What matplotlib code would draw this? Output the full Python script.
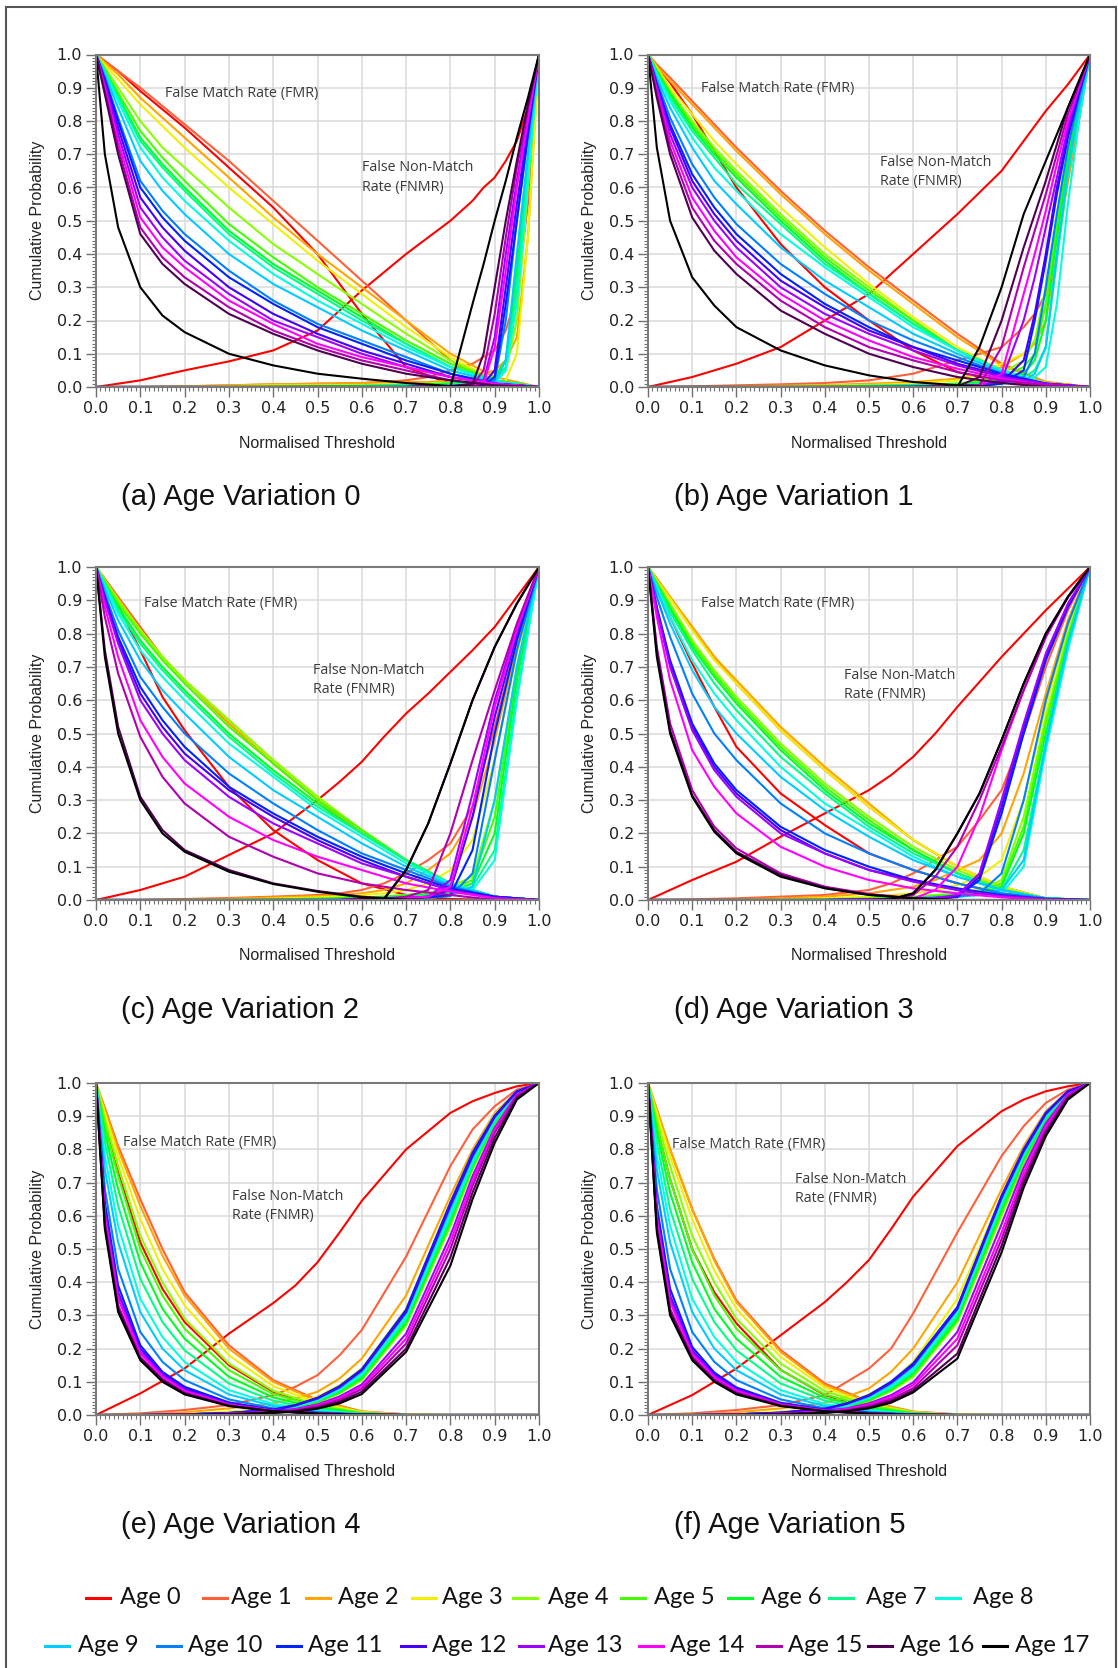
import numpy as np
import matplotlib
matplotlib.use('Agg')
import matplotlib.pyplot as plt
from matplotlib.lines import Line2D
from matplotlib.patches import Rectangle

W, H = 1118, 1668

ages = ['Age 0', 'Age 1', 'Age 2', 'Age 3', 'Age 4', 'Age 5', 'Age 6', 'Age 7', 'Age 8',
        'Age 9', 'Age 10', 'Age 11', 'Age 12', 'Age 13', 'Age 14', 'Age 15', 'Age 16', 'Age 17']
age_colors = ['#ff0000', '#ff5f3a', '#ffa500', '#f0f000', '#88ff00', '#44ff00', '#00ff22',
              '#00ff88', '#00ffe0', '#00ccff', '#0080ff', '#0022ff', '#4400ff', '#a000ff',
              '#ff00ff', '#b000b0', '#500050', '#000000']

captions = ['(a) Age Variation 0', '(b) Age Variation 1', '(c) Age Variation 2',
            '(d) Age Variation 3', '(e) Age Variation 4', '(f) Age Variation 5']

# thresholds where the curves were read
fmr_x = [0, 0.02, 0.05, 0.1, 0.15, 0.2, 0.3, 0.4, 0.5, 0.6, 0.7, 0.8, 0.9, 1.0]
fnmr_x_ab = [0, 0.1, 0.2, 0.3, 0.4, 0.5, 0.6, 0.7, 0.75, 0.8, 0.85, 0.875, 0.9, 0.925, 0.95, 0.975, 1.0]
fnmr_x_cd = [0, 0.1, 0.2, 0.3, 0.4, 0.5, 0.55, 0.6, 0.65, 0.7, 0.75, 0.8, 0.85, 0.9, 0.95, 1.0]
fnmr_x_ef = [0, 0.1, 0.2, 0.3, 0.4, 0.45, 0.5, 0.55, 0.6, 0.7, 0.8, 0.85, 0.9, 0.95, 1.0]

# (a) age variation 0
fmr_a = [
    [1.0, 0.98, 0.95, 0.89, 0.835, 0.78, 0.66, 0.54, 0.40, 0.22, 0.06, 0.01, 0.0, 0.0],
    [1.0, 0.98, 0.95, 0.90, 0.845, 0.79, 0.68, 0.56, 0.44, 0.32, 0.20, 0.08, 0.01, 0.0],
    [1.0, 0.975, 0.94, 0.87, 0.81, 0.75, 0.63, 0.51, 0.40, 0.30, 0.20, 0.10, 0.03, 0.0],
    [1.0, 0.97, 0.925, 0.85, 0.785, 0.72, 0.60, 0.49, 0.38, 0.28, 0.18, 0.09, 0.02, 0.0],
    [1.0, 0.96, 0.90, 0.80, 0.72, 0.66, 0.54, 0.43, 0.34, 0.25, 0.16, 0.08, 0.02, 0.0],
    [1.0, 0.955, 0.885, 0.77, 0.69, 0.62, 0.49, 0.39, 0.30, 0.22, 0.14, 0.07, 0.02, 0.0],
    [1.0, 0.95, 0.875, 0.75, 0.67, 0.60, 0.47, 0.37, 0.29, 0.21, 0.13, 0.06, 0.02, 0.0],
    [1.0, 0.95, 0.87, 0.74, 0.66, 0.59, 0.46, 0.36, 0.28, 0.20, 0.13, 0.06, 0.02, 0.0],
    [1.0, 0.945, 0.86, 0.72, 0.63, 0.56, 0.44, 0.34, 0.26, 0.19, 0.12, 0.06, 0.015, 0.0],
    [1.0, 0.94, 0.84, 0.68, 0.59, 0.52, 0.40, 0.31, 0.24, 0.17, 0.11, 0.05, 0.015, 0.0],
    [1.0, 0.93, 0.81, 0.62, 0.53, 0.46, 0.35, 0.26, 0.19, 0.14, 0.09, 0.04, 0.01, 0.0],
    [1.0, 0.925, 0.80, 0.60, 0.51, 0.44, 0.33, 0.25, 0.18, 0.13, 0.08, 0.04, 0.01, 0.0],
    [1.0, 0.92, 0.78, 0.57, 0.48, 0.41, 0.30, 0.22, 0.16, 0.11, 0.07, 0.03, 0.01, 0.0],
    [1.0, 0.91, 0.76, 0.54, 0.45, 0.38, 0.28, 0.20, 0.15, 0.10, 0.06, 0.03, 0.01, 0.0],
    [1.0, 0.90, 0.74, 0.51, 0.42, 0.36, 0.26, 0.19, 0.13, 0.09, 0.06, 0.03, 0.01, 0.0],
    [1.0, 0.89, 0.72, 0.48, 0.39, 0.33, 0.24, 0.17, 0.12, 0.08, 0.05, 0.02, 0.005, 0.0],
    [1.0, 0.88, 0.70, 0.46, 0.37, 0.31, 0.22, 0.16, 0.11, 0.07, 0.04, 0.02, 0.005, 0.0],
    [1.0, 0.70, 0.48, 0.30, 0.215, 0.165, 0.10, 0.065, 0.04, 0.025, 0.012, 0.003, 0.0, 0.0],
]
fnmr_a = [
    [0, 0.02, 0.05, 0.077, 0.11, 0.17, 0.29, 0.40, 0.45, 0.50, 0.56, 0.60, 0.63, 0.68, 0.74, 0.84, 1.0],
    [0, 0, 0.002, 0.005, 0.008, 0.01, 0.012, 0.02, 0.03, 0.05, 0.07, 0.09, 0.11, 0.17, 0.28, 0.55, 1.0],
    [0, 0, 0.002, 0.005, 0.008, 0.01, 0.012, 0.015, 0.015, 0.02, 0.03, 0.04, 0.05, 0.08, 0.15, 0.45, 1.0],
    [0, 0, 0, 0.003, 0.005, 0.005, 0.006, 0.008, 0.01, 0.01, 0.01, 0.012, 0.015, 0.02, 0.10, 0.45, 1.0],
    [0, 0, 0, 0, 0.002, 0.003, 0.005, 0.008, 0.01, 0.012, 0.02, 0.025, 0.03, 0.05, 0.2, 0.6, 1.0],
    [0, 0, 0, 0, 0, 0.002, 0.003, 0.005, 0.008, 0.01, 0.02, 0.025, 0.03, 0.08, 0.3, 0.65, 1.0],
    [0, 0, 0, 0, 0, 0.002, 0.003, 0.005, 0.008, 0.01, 0.015, 0.02, 0.03, 0.08, 0.35, 0.68, 1.0],
    [0, 0, 0, 0, 0, 0, 0.002, 0.004, 0.006, 0.008, 0.012, 0.015, 0.02, 0.06, 0.3, 0.65, 1.0],
    [0, 0, 0, 0, 0, 0, 0, 0.002, 0.004, 0.006, 0.008, 0.01, 0.01, 0.05, 0.25, 0.62, 1.0],
    [0, 0, 0, 0, 0, 0, 0, 0.002, 0.003, 0.005, 0.007, 0.008, 0.01, 0.08, 0.4, 0.7, 1.0],
    [0, 0, 0, 0, 0, 0, 0, 0, 0.002, 0.003, 0.004, 0.005, 0.02, 0.2, 0.5, 0.75, 1.0],
    [0, 0, 0, 0, 0, 0, 0, 0, 0.002, 0.003, 0.004, 0.006, 0.03, 0.25, 0.5, 0.76, 1.0],
    [0, 0, 0, 0, 0, 0, 0, 0, 0.002, 0.003, 0.005, 0.01, 0.05, 0.3, 0.55, 0.78, 1.0],
    [0, 0, 0, 0, 0, 0, 0, 0, 0.001, 0.002, 0.005, 0.02, 0.15, 0.4, 0.62, 0.82, 1.0],
    [0, 0, 0, 0, 0, 0, 0, 0, 0.001, 0.002, 0.004, 0.01, 0.12, 0.35, 0.6, 0.8, 1.0],
    [0, 0, 0, 0, 0, 0, 0, 0, 0.001, 0.002, 0.005, 0.05, 0.22, 0.45, 0.66, 0.84, 1.0],
    [0, 0, 0, 0, 0, 0, 0, 0, 0.001, 0.002, 0.01, 0.1, 0.3, 0.5, 0.68, 0.85, 1.0],
    [0, 0, 0, 0, 0, 0, 0, 0, 0, 0.0, 0.25, 0.37, 0.5, 0.62, 0.75, 0.87, 1.0],
]

# (b) age variation 1
fmr_b = [
    [1.0, 0.965, 0.915, 0.82, 0.71, 0.60, 0.43, 0.30, 0.20, 0.11, 0.045, 0.015, 0.0, 0.0],
    [1.0, 0.97, 0.93, 0.86, 0.79, 0.72, 0.59, 0.47, 0.36, 0.26, 0.16, 0.07, 0.015, 0.0],
    [1.0, 0.965, 0.92, 0.85, 0.78, 0.71, 0.58, 0.46, 0.35, 0.25, 0.15, 0.065, 0.015, 0.0],
    [1.0, 0.96, 0.90, 0.82, 0.74, 0.67, 0.54, 0.42, 0.31, 0.21, 0.12, 0.05, 0.01, 0.0],
    [1.0, 0.955, 0.89, 0.80, 0.72, 0.65, 0.52, 0.40, 0.30, 0.20, 0.11, 0.05, 0.01, 0.0],
    [1.0, 0.95, 0.885, 0.79, 0.71, 0.64, 0.51, 0.39, 0.29, 0.20, 0.11, 0.05, 0.01, 0.0],
    [1.0, 0.95, 0.88, 0.78, 0.70, 0.63, 0.50, 0.38, 0.28, 0.19, 0.11, 0.05, 0.01, 0.0],
    [1.0, 0.945, 0.87, 0.77, 0.69, 0.61, 0.49, 0.37, 0.28, 0.19, 0.11, 0.05, 0.01, 0.0],
    [1.0, 0.94, 0.86, 0.75, 0.66, 0.59, 0.46, 0.36, 0.27, 0.18, 0.11, 0.05, 0.01, 0.0],
    [1.0, 0.93, 0.84, 0.72, 0.62, 0.55, 0.42, 0.32, 0.24, 0.16, 0.10, 0.045, 0.01, 0.0],
    [1.0, 0.92, 0.81, 0.67, 0.57, 0.49, 0.37, 0.28, 0.20, 0.14, 0.09, 0.04, 0.01, 0.0],
    [1.0, 0.91, 0.79, 0.64, 0.54, 0.46, 0.34, 0.25, 0.18, 0.12, 0.08, 0.04, 0.01, 0.0],
    [1.0, 0.905, 0.78, 0.62, 0.52, 0.44, 0.32, 0.24, 0.17, 0.12, 0.07, 0.035, 0.01, 0.0],
    [1.0, 0.90, 0.76, 0.60, 0.50, 0.42, 0.30, 0.22, 0.16, 0.11, 0.065, 0.03, 0.01, 0.0],
    [1.0, 0.89, 0.74, 0.57, 0.47, 0.39, 0.28, 0.20, 0.14, 0.09, 0.055, 0.025, 0.005, 0.0],
    [1.0, 0.88, 0.72, 0.54, 0.44, 0.37, 0.26, 0.18, 0.12, 0.08, 0.045, 0.02, 0.005, 0.0],
    [1.0, 0.87, 0.70, 0.51, 0.41, 0.34, 0.23, 0.16, 0.10, 0.06, 0.03, 0.012, 0.0, 0.0],
    [1.0, 0.72, 0.50, 0.33, 0.245, 0.18, 0.11, 0.065, 0.035, 0.015, 0.005, 0.0, 0.0, 0.0],
]
fnmr_b = [
    [0, 0.03, 0.07, 0.12, 0.20, 0.28, 0.40, 0.52, 0.585, 0.65, 0.74, 0.785, 0.83, 0.87, 0.91, 0.955, 1.0],
    [0, 0.002, 0.005, 0.008, 0.012, 0.02, 0.04, 0.08, 0.10, 0.12, 0.18, 0.22, 0.28, 0.45, 0.62, 0.8, 1.0],
    [0, 0, 0.002, 0.004, 0.006, 0.01, 0.015, 0.025, 0.04, 0.06, 0.1, 0.13, 0.2, 0.4, 0.62, 0.82, 1.0],
    [0, 0, 0, 0.002, 0.004, 0.006, 0.01, 0.02, 0.04, 0.07, 0.1, 0.14, 0.25, 0.45, 0.65, 0.83, 1.0],
    [0, 0, 0, 0, 0.002, 0.004, 0.006, 0.01, 0.02, 0.04, 0.08, 0.14, 0.3, 0.5, 0.7, 0.85, 1.0],
    [0, 0, 0, 0, 0.002, 0.004, 0.006, 0.01, 0.015, 0.03, 0.06, 0.1, 0.25, 0.48, 0.7, 0.86, 1.0],
    [0, 0, 0, 0, 0, 0.002, 0.004, 0.008, 0.012, 0.02, 0.04, 0.08, 0.2, 0.45, 0.68, 0.85, 1.0],
    [0, 0, 0, 0, 0, 0.002, 0.004, 0.006, 0.01, 0.015, 0.03, 0.05, 0.12, 0.38, 0.64, 0.83, 1.0],
    [0, 0, 0, 0, 0, 0, 0.002, 0.004, 0.006, 0.01, 0.02, 0.03, 0.06, 0.25, 0.55, 0.8, 1.0],
    [0, 0, 0, 0, 0, 0, 0.002, 0.004, 0.006, 0.01, 0.02, 0.04, 0.12, 0.4, 0.65, 0.84, 1.0],
    [0, 0, 0, 0, 0, 0, 0.002, 0.004, 0.006, 0.01, 0.03, 0.1, 0.3, 0.52, 0.72, 0.87, 1.0],
    [0, 0, 0, 0, 0, 0, 0, 0.002, 0.005, 0.01, 0.05, 0.2, 0.38, 0.58, 0.75, 0.88, 1.0],
    [0, 0, 0, 0, 0, 0, 0, 0.002, 0.005, 0.015, 0.08, 0.22, 0.4, 0.6, 0.76, 0.89, 1.0],
    [0, 0, 0, 0, 0, 0, 0, 0.002, 0.005, 0.02, 0.2, 0.33, 0.48, 0.63, 0.78, 0.9, 1.0],
    [0, 0, 0, 0, 0, 0, 0, 0.002, 0.005, 0.04, 0.28, 0.4, 0.53, 0.67, 0.8, 0.9, 1.0],
    [0, 0, 0, 0, 0, 0, 0, 0.002, 0.005, 0.12, 0.36, 0.47, 0.58, 0.7, 0.82, 0.91, 1.0],
    [0, 0, 0, 0, 0, 0, 0, 0.002, 0.03, 0.2, 0.42, 0.52, 0.62, 0.73, 0.84, 0.92, 1.0],
    [0, 0, 0, 0, 0, 0, 0, 0.0, 0.12, 0.30, 0.52, 0.60, 0.68, 0.76, 0.84, 0.92, 1.0],
]

# (c) age variation 2
fmr_c = [
    [1.0, 0.955, 0.885, 0.75, 0.61, 0.51, 0.34, 0.21, 0.12, 0.05, 0.015, 0.003, 0.0, 0.0],
    [1.0, 0.965, 0.91, 0.82, 0.73, 0.66, 0.53, 0.41, 0.30, 0.20, 0.12, 0.05, 0.01, 0.0],
    [1.0, 0.96, 0.905, 0.81, 0.73, 0.66, 0.53, 0.41, 0.30, 0.20, 0.12, 0.05, 0.01, 0.0],
    [1.0, 0.96, 0.90, 0.81, 0.73, 0.66, 0.54, 0.42, 0.31, 0.21, 0.12, 0.05, 0.01, 0.0],
    [1.0, 0.96, 0.90, 0.81, 0.73, 0.66, 0.54, 0.42, 0.31, 0.21, 0.12, 0.05, 0.01, 0.0],
    [1.0, 0.955, 0.89, 0.80, 0.72, 0.65, 0.52, 0.41, 0.30, 0.21, 0.12, 0.05, 0.01, 0.0],
    [1.0, 0.95, 0.88, 0.78, 0.70, 0.63, 0.50, 0.39, 0.29, 0.20, 0.12, 0.05, 0.01, 0.0],
    [1.0, 0.95, 0.87, 0.77, 0.69, 0.62, 0.49, 0.38, 0.28, 0.20, 0.12, 0.05, 0.01, 0.0],
    [1.0, 0.945, 0.86, 0.75, 0.67, 0.60, 0.47, 0.37, 0.27, 0.19, 0.11, 0.05, 0.01, 0.0],
    [1.0, 0.935, 0.84, 0.72, 0.63, 0.56, 0.43, 0.33, 0.25, 0.17, 0.10, 0.045, 0.01, 0.0],
    [1.0, 0.92, 0.81, 0.67, 0.58, 0.50, 0.38, 0.29, 0.21, 0.14, 0.09, 0.04, 0.01, 0.0],
    [1.0, 0.91, 0.79, 0.64, 0.54, 0.46, 0.34, 0.26, 0.19, 0.13, 0.08, 0.035, 0.01, 0.0],
    [1.0, 0.905, 0.78, 0.62, 0.52, 0.44, 0.33, 0.25, 0.18, 0.12, 0.07, 0.03, 0.01, 0.0],
    [1.0, 0.90, 0.77, 0.60, 0.50, 0.42, 0.31, 0.23, 0.17, 0.11, 0.07, 0.03, 0.005, 0.0],
    [1.0, 0.88, 0.73, 0.54, 0.43, 0.35, 0.25, 0.18, 0.13, 0.09, 0.05, 0.025, 0.005, 0.0],
    [1.0, 0.85, 0.68, 0.49, 0.37, 0.29, 0.19, 0.13, 0.08, 0.05, 0.03, 0.015, 0.0, 0.0],
    [1.0, 0.75, 0.52, 0.31, 0.21, 0.15, 0.09, 0.05, 0.027, 0.01, 0.002, 0.0, 0.0, 0.0],
    [1.0, 0.73, 0.50, 0.30, 0.20, 0.145, 0.085, 0.048, 0.025, 0.008, 0.0, 0.0, 0.0, 0.0],
]
fnmr_c = [
    [0, 0.03, 0.07, 0.135, 0.20, 0.30, 0.355, 0.415, 0.49, 0.56, 0.62, 0.685, 0.75, 0.82, 0.91, 1.0],
    [0, 0, 0.003, 0.006, 0.01, 0.015, 0.02, 0.03, 0.05, 0.08, 0.12, 0.17, 0.28, 0.52, 0.78, 1.0],
    [0, 0, 0.002, 0.004, 0.008, 0.012, 0.015, 0.02, 0.03, 0.05, 0.09, 0.14, 0.25, 0.48, 0.76, 1.0],
    [0, 0, 0, 0.002, 0.004, 0.008, 0.01, 0.015, 0.02, 0.03, 0.05, 0.09, 0.18, 0.42, 0.74, 1.0],
    [0, 0, 0, 0, 0.002, 0.004, 0.006, 0.008, 0.01, 0.015, 0.02, 0.04, 0.07, 0.3, 0.7, 1.0],
    [0, 0, 0, 0, 0.002, 0.004, 0.006, 0.008, 0.01, 0.015, 0.02, 0.03, 0.06, 0.25, 0.68, 1.0],
    [0, 0, 0, 0, 0, 0.002, 0.004, 0.006, 0.008, 0.01, 0.015, 0.025, 0.05, 0.2, 0.66, 1.0],
    [0, 0, 0, 0, 0, 0.002, 0.003, 0.005, 0.007, 0.01, 0.012, 0.02, 0.04, 0.15, 0.62, 1.0],
    [0, 0, 0, 0, 0, 0, 0.002, 0.004, 0.006, 0.008, 0.01, 0.015, 0.03, 0.12, 0.6, 1.0],
    [0, 0, 0, 0, 0, 0, 0.002, 0.004, 0.006, 0.008, 0.01, 0.015, 0.04, 0.3, 0.7, 1.0],
    [0, 0, 0, 0, 0, 0, 0, 0.002, 0.004, 0.006, 0.008, 0.012, 0.08, 0.42, 0.75, 1.0],
    [0, 0, 0, 0, 0, 0, 0, 0.002, 0.004, 0.006, 0.008, 0.015, 0.15, 0.5, 0.78, 1.0],
    [0, 0, 0, 0, 0, 0, 0, 0.002, 0.004, 0.006, 0.01, 0.03, 0.25, 0.55, 0.8, 1.0],
    [0, 0, 0, 0, 0, 0, 0, 0.002, 0.004, 0.006, 0.01, 0.06, 0.32, 0.6, 0.82, 1.0],
    [0, 0, 0, 0, 0, 0, 0, 0.002, 0.004, 0.006, 0.01, 0.04, 0.28, 0.58, 0.81, 1.0],
    [0, 0, 0, 0, 0, 0, 0, 0.002, 0.004, 0.01, 0.03, 0.2, 0.42, 0.63, 0.83, 1.0],
    [0, 0, 0, 0, 0, 0, 0, 0.002, 0.004, 0.09, 0.23, 0.41, 0.6, 0.76, 0.89, 1.0],
    [0, 0, 0, 0, 0, 0, 0, 0, 0.002, 0.09, 0.23, 0.41, 0.6, 0.76, 0.89, 1.0],
]

# (d) age variation 3
fmr_d = [
    [1.0, 0.94, 0.85, 0.71, 0.58, 0.46, 0.32, 0.225, 0.14, 0.09, 0.05, 0.02, 0.005, 0.0],
    [1.0, 0.965, 0.91, 0.82, 0.73, 0.65, 0.51, 0.39, 0.28, 0.18, 0.10, 0.04, 0.005, 0.0],
    [1.0, 0.965, 0.91, 0.82, 0.73, 0.66, 0.52, 0.40, 0.29, 0.18, 0.10, 0.04, 0.005, 0.0],
    [1.0, 0.96, 0.905, 0.81, 0.72, 0.65, 0.51, 0.39, 0.28, 0.18, 0.10, 0.04, 0.005, 0.0],
    [1.0, 0.955, 0.89, 0.78, 0.69, 0.61, 0.47, 0.35, 0.25, 0.16, 0.09, 0.035, 0.005, 0.0],
    [1.0, 0.95, 0.88, 0.77, 0.68, 0.60, 0.46, 0.34, 0.24, 0.15, 0.08, 0.03, 0.005, 0.0],
    [1.0, 0.95, 0.875, 0.76, 0.67, 0.59, 0.45, 0.33, 0.23, 0.15, 0.08, 0.03, 0.005, 0.0],
    [1.0, 0.945, 0.865, 0.75, 0.65, 0.57, 0.43, 0.32, 0.22, 0.14, 0.08, 0.03, 0.005, 0.0],
    [1.0, 0.94, 0.85, 0.72, 0.62, 0.54, 0.40, 0.29, 0.21, 0.13, 0.07, 0.03, 0.005, 0.0],
    [1.0, 0.93, 0.83, 0.69, 0.58, 0.50, 0.37, 0.27, 0.19, 0.12, 0.07, 0.03, 0.005, 0.0],
    [1.0, 0.91, 0.79, 0.62, 0.50, 0.42, 0.29, 0.20, 0.14, 0.09, 0.05, 0.02, 0.005, 0.0],
    [1.0, 0.88, 0.72, 0.53, 0.41, 0.33, 0.22, 0.15, 0.10, 0.06, 0.035, 0.015, 0.003, 0.0],
    [1.0, 0.875, 0.71, 0.52, 0.40, 0.32, 0.21, 0.14, 0.09, 0.06, 0.03, 0.012, 0.003, 0.0],
    [1.0, 0.87, 0.70, 0.51, 0.39, 0.31, 0.20, 0.14, 0.09, 0.055, 0.03, 0.012, 0.003, 0.0],
    [1.0, 0.85, 0.66, 0.45, 0.34, 0.26, 0.16, 0.10, 0.06, 0.035, 0.02, 0.008, 0.0, 0.0],
    [1.0, 0.76, 0.53, 0.33, 0.22, 0.155, 0.08, 0.04, 0.018, 0.006, 0.0, 0.0, 0.0, 0.0],
    [1.0, 0.745, 0.51, 0.315, 0.21, 0.145, 0.075, 0.037, 0.016, 0.005, 0.0, 0.0, 0.0, 0.0],
    [1.0, 0.73, 0.50, 0.31, 0.205, 0.14, 0.07, 0.035, 0.015, 0.005, 0.0, 0.0, 0.0, 0.0],
]
fnmr_d = [
    [0, 0.06, 0.115, 0.19, 0.26, 0.33, 0.375, 0.43, 0.50, 0.58, 0.655, 0.73, 0.80, 0.87, 0.935, 1.0],
    [0, 0.002, 0.005, 0.01, 0.015, 0.03, 0.05, 0.08, 0.12, 0.16, 0.24, 0.33, 0.5, 0.7, 0.87, 1.0],
    [0, 0, 0.002, 0.005, 0.01, 0.02, 0.03, 0.04, 0.06, 0.09, 0.12, 0.2, 0.38, 0.62, 0.84, 1.0],
    [0, 0, 0, 0.002, 0.005, 0.01, 0.015, 0.02, 0.03, 0.045, 0.07, 0.12, 0.3, 0.58, 0.82, 1.0],
    [0, 0, 0, 0, 0.002, 0.005, 0.008, 0.01, 0.015, 0.02, 0.03, 0.06, 0.25, 0.55, 0.8, 1.0],
    [0, 0, 0, 0, 0.002, 0.004, 0.006, 0.008, 0.012, 0.016, 0.025, 0.05, 0.22, 0.53, 0.79, 1.0],
    [0, 0, 0, 0, 0, 0.003, 0.005, 0.007, 0.01, 0.014, 0.02, 0.04, 0.2, 0.5, 0.78, 1.0],
    [0, 0, 0, 0, 0, 0.002, 0.004, 0.006, 0.008, 0.012, 0.018, 0.03, 0.15, 0.47, 0.77, 1.0],
    [0, 0, 0, 0, 0, 0.002, 0.003, 0.005, 0.007, 0.01, 0.015, 0.02, 0.1, 0.45, 0.75, 1.0],
    [0, 0, 0, 0, 0, 0.002, 0.003, 0.005, 0.007, 0.01, 0.015, 0.03, 0.12, 0.47, 0.77, 1.0],
    [0, 0, 0, 0, 0, 0.002, 0.003, 0.005, 0.007, 0.01, 0.02, 0.08, 0.3, 0.6, 0.83, 1.0],
    [0, 0, 0, 0, 0, 0.002, 0.003, 0.004, 0.006, 0.01, 0.06, 0.26, 0.5, 0.72, 0.88, 1.0],
    [0, 0, 0, 0, 0, 0.002, 0.003, 0.004, 0.006, 0.01, 0.07, 0.28, 0.52, 0.73, 0.88, 1.0],
    [0, 0, 0, 0, 0, 0.002, 0.003, 0.004, 0.006, 0.015, 0.08, 0.3, 0.53, 0.74, 0.89, 1.0],
    [0, 0, 0, 0, 0, 0, 0.002, 0.004, 0.03, 0.1, 0.25, 0.45, 0.63, 0.79, 0.91, 1.0],
    [0, 0, 0, 0, 0, 0, 0.002, 0.015, 0.07, 0.16, 0.3, 0.46, 0.63, 0.79, 0.91, 1.0],
    [0, 0, 0, 0, 0, 0, 0.002, 0.02, 0.09, 0.2, 0.32, 0.48, 0.65, 0.8, 0.91, 1.0],
    [0, 0, 0, 0, 0, 0, 0.002, 0.02, 0.09, 0.2, 0.32, 0.48, 0.65, 0.8, 0.91, 1.0],
]

# (e) age variation 4
fmr_e = [
    [1.0, 0.88, 0.73, 0.52, 0.38, 0.28, 0.15, 0.07, 0.028, 0.006, 0.0, 0.0, 0.0, 0.0],
    [1.0, 0.925, 0.81, 0.65, 0.50, 0.37, 0.21, 0.105, 0.045, 0.011, 0.002, 0.0, 0.0, 0.0],
    [1.0, 0.92, 0.80, 0.63, 0.48, 0.36, 0.20, 0.10, 0.042, 0.01, 0.002, 0.0, 0.0, 0.0],
    [1.0, 0.91, 0.78, 0.59, 0.44, 0.33, 0.18, 0.087, 0.036, 0.009, 0.001, 0.0, 0.0, 0.0],
    [1.0, 0.89, 0.75, 0.54, 0.40, 0.29, 0.155, 0.073, 0.03, 0.007, 0.001, 0.0, 0.0, 0.0],
    [1.0, 0.87, 0.72, 0.50, 0.36, 0.26, 0.135, 0.063, 0.026, 0.006, 0.0, 0.0, 0.0, 0.0],
    [1.0, 0.85, 0.68, 0.46, 0.32, 0.23, 0.115, 0.053, 0.021, 0.005, 0.0, 0.0, 0.0, 0.0],
    [1.0, 0.82, 0.63, 0.41, 0.28, 0.195, 0.095, 0.043, 0.017, 0.004, 0.0, 0.0, 0.0, 0.0],
    [1.0, 0.78, 0.57, 0.35, 0.235, 0.16, 0.075, 0.033, 0.013, 0.003, 0.0, 0.0, 0.0, 0.0],
    [1.0, 0.74, 0.52, 0.31, 0.20, 0.135, 0.062, 0.027, 0.01, 0.002, 0.0, 0.0, 0.0, 0.0],
    [1.0, 0.68, 0.44, 0.25, 0.16, 0.105, 0.047, 0.02, 0.008, 0.002, 0.0, 0.0, 0.0, 0.0],
    [1.0, 0.64, 0.39, 0.21, 0.13, 0.085, 0.038, 0.016, 0.006, 0.001, 0.0, 0.0, 0.0, 0.0],
    [1.0, 0.62, 0.37, 0.20, 0.125, 0.08, 0.035, 0.015, 0.006, 0.001, 0.0, 0.0, 0.0, 0.0],
    [1.0, 0.61, 0.36, 0.19, 0.12, 0.075, 0.033, 0.014, 0.005, 0.001, 0.0, 0.0, 0.0, 0.0],
    [1.0, 0.60, 0.35, 0.185, 0.115, 0.072, 0.031, 0.013, 0.005, 0.001, 0.0, 0.0, 0.0, 0.0],
    [1.0, 0.58, 0.33, 0.175, 0.108, 0.067, 0.029, 0.012, 0.004, 0.001, 0.0, 0.0, 0.0, 0.0],
    [1.0, 0.57, 0.32, 0.17, 0.105, 0.065, 0.028, 0.012, 0.004, 0.001, 0.0, 0.0, 0.0, 0.0],
    [1.0, 0.56, 0.31, 0.165, 0.10, 0.062, 0.027, 0.011, 0.004, 0.001, 0.0, 0.0, 0.0, 0.0],
]
fnmr_e = [
    [0, 0.065, 0.14, 0.245, 0.337, 0.39, 0.46, 0.55, 0.645, 0.80, 0.91, 0.945, 0.97, 0.99, 1.0],
    [0, 0.005, 0.015, 0.03, 0.06, 0.085, 0.12, 0.18, 0.256, 0.477, 0.75, 0.86, 0.93, 0.98, 1.0],
    [0, 0.002, 0.008, 0.02, 0.035, 0.05, 0.07, 0.11, 0.17, 0.36, 0.66, 0.8, 0.91, 0.975, 1.0],
    [0, 0, 0.003, 0.01, 0.02, 0.035, 0.055, 0.09, 0.14, 0.32, 0.64, 0.79, 0.905, 0.975, 1.0],
    [0, 0, 0.002, 0.005, 0.012, 0.022, 0.038, 0.065, 0.105, 0.27, 0.57, 0.74, 0.875, 0.97, 1.0],
    [0, 0, 0.002, 0.005, 0.012, 0.022, 0.039, 0.067, 0.108, 0.275, 0.575, 0.745, 0.878, 0.97, 1.0],
    [0, 0, 0.002, 0.005, 0.013, 0.024, 0.041, 0.07, 0.113, 0.28, 0.585, 0.75, 0.88, 0.97, 1.0],
    [0, 0, 0.002, 0.005, 0.013, 0.025, 0.043, 0.074, 0.118, 0.29, 0.595, 0.755, 0.885, 0.97, 1.0],
    [0, 0, 0.002, 0.006, 0.014, 0.026, 0.045, 0.077, 0.123, 0.295, 0.605, 0.765, 0.89, 0.972, 1.0],
    [0, 0, 0.002, 0.006, 0.015, 0.028, 0.048, 0.081, 0.13, 0.305, 0.62, 0.775, 0.895, 0.973, 1.0],
    [0, 0, 0.002, 0.006, 0.016, 0.03, 0.051, 0.086, 0.137, 0.315, 0.635, 0.785, 0.9, 0.975, 1.0],
    [0, 0, 0.002, 0.006, 0.016, 0.03, 0.052, 0.087, 0.138, 0.317, 0.64, 0.79, 0.902, 0.975, 1.0],
    [0, 0, 0.002, 0.006, 0.015, 0.029, 0.05, 0.084, 0.134, 0.31, 0.63, 0.78, 0.898, 0.974, 1.0],
    [0, 0, 0.001, 0.004, 0.01, 0.018, 0.032, 0.056, 0.092, 0.245, 0.54, 0.72, 0.865, 0.965, 1.0],
    [0, 0, 0.001, 0.004, 0.009, 0.016, 0.029, 0.051, 0.085, 0.23, 0.52, 0.705, 0.86, 0.962, 1.0],
    [0, 0, 0.001, 0.003, 0.008, 0.014, 0.026, 0.046, 0.078, 0.215, 0.5, 0.69, 0.85, 0.96, 1.0],
    [0, 0, 0.001, 0.003, 0.007, 0.012, 0.022, 0.04, 0.07, 0.2, 0.475, 0.67, 0.835, 0.955, 1.0],
    [0, 0, 0, 0.002, 0.006, 0.01, 0.019, 0.035, 0.063, 0.19, 0.45, 0.65, 0.82, 0.95, 1.0],
]

# (f) age variation 5
fmr_f = [
    [1.0, 0.87, 0.71, 0.50, 0.37, 0.276, 0.136, 0.06, 0.022, 0.005, 0.0, 0.0, 0.0, 0.0],
    [1.0, 0.92, 0.80, 0.62, 0.47, 0.345, 0.196, 0.095, 0.04, 0.01, 0.002, 0.0, 0.0, 0.0],
    [1.0, 0.92, 0.80, 0.62, 0.465, 0.34, 0.19, 0.09, 0.038, 0.01, 0.002, 0.0, 0.0, 0.0],
    [1.0, 0.91, 0.78, 0.59, 0.435, 0.32, 0.175, 0.083, 0.034, 0.008, 0.001, 0.0, 0.0, 0.0],
    [1.0, 0.89, 0.75, 0.54, 0.40, 0.29, 0.155, 0.072, 0.03, 0.007, 0.001, 0.0, 0.0, 0.0],
    [1.0, 0.87, 0.71, 0.50, 0.36, 0.26, 0.135, 0.062, 0.025, 0.006, 0.0, 0.0, 0.0, 0.0],
    [1.0, 0.85, 0.67, 0.46, 0.32, 0.23, 0.115, 0.052, 0.02, 0.005, 0.0, 0.0, 0.0, 0.0],
    [1.0, 0.82, 0.62, 0.41, 0.28, 0.195, 0.095, 0.043, 0.017, 0.004, 0.0, 0.0, 0.0, 0.0],
    [1.0, 0.78, 0.57, 0.35, 0.235, 0.16, 0.075, 0.033, 0.013, 0.003, 0.0, 0.0, 0.0, 0.0],
    [1.0, 0.74, 0.52, 0.31, 0.20, 0.135, 0.062, 0.027, 0.01, 0.002, 0.0, 0.0, 0.0, 0.0],
    [1.0, 0.68, 0.44, 0.25, 0.16, 0.105, 0.047, 0.02, 0.008, 0.002, 0.0, 0.0, 0.0, 0.0],
    [1.0, 0.63, 0.38, 0.205, 0.128, 0.083, 0.037, 0.016, 0.006, 0.001, 0.0, 0.0, 0.0, 0.0],
    [1.0, 0.61, 0.36, 0.195, 0.122, 0.079, 0.035, 0.015, 0.006, 0.001, 0.0, 0.0, 0.0, 0.0],
    [1.0, 0.60, 0.35, 0.19, 0.118, 0.076, 0.033, 0.014, 0.005, 0.001, 0.0, 0.0, 0.0, 0.0],
    [1.0, 0.59, 0.34, 0.183, 0.113, 0.072, 0.031, 0.013, 0.005, 0.001, 0.0, 0.0, 0.0, 0.0],
    [1.0, 0.57, 0.32, 0.175, 0.107, 0.068, 0.029, 0.012, 0.004, 0.001, 0.0, 0.0, 0.0, 0.0],
    [1.0, 0.56, 0.31, 0.17, 0.103, 0.065, 0.028, 0.011, 0.004, 0.001, 0.0, 0.0, 0.0, 0.0],
    [1.0, 0.55, 0.30, 0.165, 0.10, 0.062, 0.027, 0.011, 0.004, 0.001, 0.0, 0.0, 0.0, 0.0],
]
fnmr_f = [
    [0, 0.06, 0.14, 0.24, 0.34, 0.40, 0.467, 0.56, 0.658, 0.81, 0.915, 0.95, 0.975, 0.99, 1.0],
    [0, 0.005, 0.015, 0.03, 0.06, 0.1, 0.14, 0.2, 0.306, 0.55, 0.78, 0.87, 0.94, 0.98, 1.0],
    [0, 0.002, 0.008, 0.02, 0.037, 0.055, 0.08, 0.13, 0.2, 0.4, 0.68, 0.81, 0.915, 0.975, 1.0],
    [0, 0, 0.003, 0.01, 0.022, 0.038, 0.062, 0.1, 0.16, 0.35, 0.66, 0.8, 0.91, 0.975, 1.0],
    [0, 0, 0.002, 0.005, 0.013, 0.024, 0.042, 0.072, 0.115, 0.28, 0.6, 0.76, 0.885, 0.97, 1.0],
    [0, 0, 0.002, 0.005, 0.013, 0.025, 0.044, 0.075, 0.12, 0.285, 0.61, 0.765, 0.888, 0.97, 1.0],
    [0, 0, 0.002, 0.005, 0.014, 0.026, 0.046, 0.078, 0.125, 0.29, 0.62, 0.77, 0.89, 0.97, 1.0],
    [0, 0, 0.002, 0.006, 0.015, 0.028, 0.049, 0.082, 0.13, 0.3, 0.63, 0.78, 0.895, 0.972, 1.0],
    [0, 0, 0.002, 0.006, 0.016, 0.03, 0.052, 0.087, 0.137, 0.31, 0.64, 0.785, 0.9, 0.973, 1.0],
    [0, 0, 0.002, 0.006, 0.017, 0.032, 0.055, 0.092, 0.145, 0.318, 0.65, 0.79, 0.903, 0.974, 1.0],
    [0, 0, 0.002, 0.007, 0.019, 0.035, 0.06, 0.1, 0.155, 0.325, 0.66, 0.8, 0.91, 0.975, 1.0],
    [0, 0, 0.002, 0.007, 0.019, 0.035, 0.06, 0.1, 0.155, 0.325, 0.66, 0.8, 0.91, 0.975, 1.0],
    [0, 0, 0.002, 0.007, 0.018, 0.034, 0.058, 0.097, 0.15, 0.32, 0.655, 0.795, 0.907, 0.975, 1.0],
    [0, 0, 0.001, 0.004, 0.011, 0.02, 0.035, 0.06, 0.098, 0.25, 0.575, 0.745, 0.878, 0.966, 1.0],
    [0, 0, 0.001, 0.004, 0.01, 0.018, 0.031, 0.054, 0.09, 0.23, 0.55, 0.73, 0.87, 0.963, 1.0],
    [0, 0, 0.001, 0.003, 0.008, 0.015, 0.027, 0.048, 0.081, 0.21, 0.53, 0.715, 0.86, 0.96, 1.0],
    [0, 0, 0.001, 0.003, 0.007, 0.013, 0.023, 0.042, 0.074, 0.185, 0.51, 0.7, 0.85, 0.955, 1.0],
    [0, 0, 0, 0.002, 0.006, 0.011, 0.02, 0.037, 0.068, 0.17, 0.49, 0.685, 0.84, 0.95, 1.0],
]

# layout (pixels of the 1118x1668 picture)
col_left = [96, 648]
col_width = [443, 442]
row_top = [54.5, 567, 1083]
row_bottom = [387, 900, 1415]
fmr_label_pos = [(0.156, 0.883), (0.12, 0.898), (0.108, 0.89), (0.12, 0.89), (0.062, 0.82), (0.055, 0.814)]
fnmr_label_pos = [(0.60, 0.63), (0.524, 0.646), (0.489, 0.66), (0.443, 0.646), (0.308, 0.63), (0.332, 0.68)]

panels = [
    (fmr_a, fnmr_x_ab, fnmr_a), (fmr_b, fnmr_x_ab, fnmr_b),
    (fmr_c, fnmr_x_cd, fnmr_c), (fmr_d, fnmr_x_cd, fnmr_d),
    (fmr_e, fnmr_x_ef, fnmr_e), (fmr_f, fnmr_x_ef, fnmr_f),
]

fig = plt.figure(figsize=(W / 100, H / 100), dpi=100)
fig.patch.set_facecolor('white')

for i, (fmr, fnmr_x, fnmr) in enumerate(panels):
    r, c = i // 2, i % 2
    left = col_left[c] / W
    bottom = 1 - row_bottom[r] / H
    ax = fig.add_axes([left, bottom, col_width[c] / W, (row_bottom[r] - row_top[r]) / H])

    for k in range(len(ages)):
        ax.plot(fmr_x, fmr[k], color=age_colors[k], lw=1.5, solid_joinstyle='round')
        ax.plot(fnmr_x, fnmr[k], color=age_colors[k], lw=1.5, solid_joinstyle='round')

    ax.set_xlim(0, 1)
    ax.set_ylim(0, 1)
    ticks = np.arange(0, 1.01, 0.1)
    ax.set_xticks(ticks)
    ax.set_yticks(ticks)
    ax.set_xticks(np.arange(0, 1.001, 0.01), minor=True)
    ax.set_yticks(np.arange(0, 1.001, 0.01), minor=True)
    ax.set_xticklabels(['%.1f' % v for v in ticks], family='DejaVu Sans')
    ax.set_yticklabels(['%.1f' % v for v in ticks], family='DejaVu Sans')
    ax.tick_params(which='major', direction='out', length=7, width=1, color='#707070',
                   labelsize=11.5, labelcolor='#222222', pad=3)
    ax.tick_params(which='minor', direction='out', length=3, width=0.8, color='#707070')
    ax.grid(True, which='major', color='#dadada', lw=1.1)
    ax.set_axisbelow(True)
    for s in ax.spines.values():
        s.set_color('#7a7a7a')
        s.set_linewidth(1.5)

    ax.text(fmr_label_pos[i][0], fmr_label_pos[i][1], 'False Match Rate (FMR)',
            fontsize=10.3, family='Open Sans', color='#3a3a3a', ha='left', va='center')
    ax.text(fnmr_label_pos[i][0], fnmr_label_pos[i][1], 'False Non-Match\nRate (FNMR)',
            fontsize=10.3, family='Open Sans', color='#3a3a3a', ha='left', va='center',
            linespacing=1.4)

    # axis titles and caption
    cx = (col_left[c] + col_width[c] / 2) / W
    fig.text(cx, 1 - (row_bottom[r] + 56) / H, 'Normalised Threshold', fontsize=11.5,
             family='Liberation Sans', color='#222222', ha='center', va='center')
    fig.text((col_left[c] - 58.5) / W, 1 - (row_top[r] + row_bottom[r]) / 2 / H,
             'Cumulative Probability', fontsize=11.5, family='Liberation Sans',
             color='#222222', ha='center', va='center', rotation=90)
    cap_x = [121, 674][c]
    fig.text(cap_x / W, 1 - (row_bottom[r] + 110) / H, captions[i], fontsize=21,
             family='Liberation Sans', color='#111111', ha='left', va='center')

# legend drawn by hand to keep the original spacing
leg_rows_y = [1598, 1646]
leg_line_x = [[86, 203, 306, 412, 513, 621, 728, 829, 936],
              [45, 157, 277, 401, 519, 639, 757, 868, 983]]
leg_text_x = [[120, 231, 338, 442, 548, 654, 761, 866, 973],
              [78, 188, 308, 432, 548, 670, 788, 900, 1015]]
for row in range(2):
    y = 1 - leg_rows_y[row] / H
    for j in range(9):
        k = row * 9 + j
        x0 = leg_line_x[row][j]
        fig.add_artist(Line2D([x0 / W, (x0 + 24) / W], [y, y], color=age_colors[k], lw=2.2))
        fig.text(leg_text_x[row][j] / W, y, ages[k], fontsize=17, family='Lato',
                 color='#111111', ha='left', va='center')

# outer frame
fig.add_artist(Rectangle((6 / W, -0.01), 1110 / W, 1.01 - 7 / H, fill=False,
                         edgecolor='#555555', lw=1.5, transform=fig.transFigure))

fig.savefig('out.png', dpi=100)
